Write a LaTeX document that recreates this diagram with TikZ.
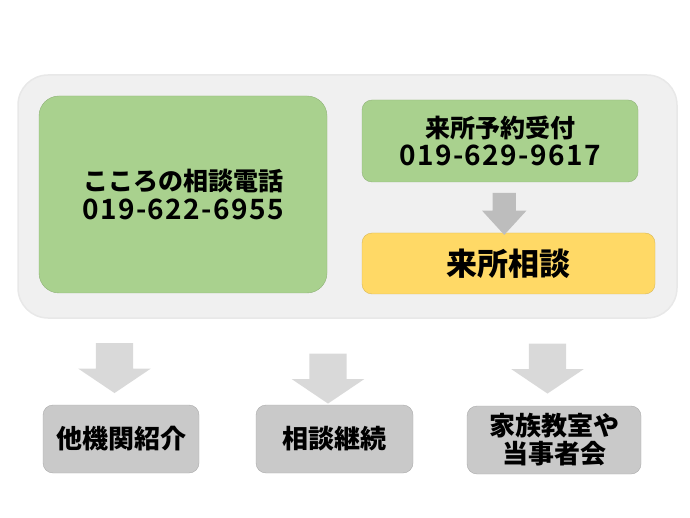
\documentclass[tikz,border=0pt]{standalone}
\usepackage{fontspec}
\newfontfamily\jp{Noto Sans CJK JP Black}
\newfontfamily\jpnum{Noto Sans CJK JP}[BoldFont={* Bold},LetterSpace=5]
\usetikzlibrary{shapes.arrows,calc}

\definecolor{boxgreen}{HTML}{A9D18E}
\definecolor{boxyellow}{HTML}{FFD966}
\definecolor{boxgray}{HTML}{C9C9C9}
\definecolor{panelgray}{HTML}{F0F0F0}

\begin{document}
\begin{tikzpicture}[x=1pt,y=-1pt,
    panel/.style={rounded corners=30pt,fill=panelgray,draw=black!9,line width=1.5pt,minimum width=659pt,minimum height=243pt},
    greenbox/.style={rounded corners=10pt,fill=boxgreen,draw=boxgreen!85!black,line width=0.4pt,align=center,font=\jp\fontsize{25}{32}\selectfont},
    yellowbox/.style={rounded corners=10pt,fill=boxyellow,draw=boxyellow!85!black,line width=0.4pt,font=\jp\fontsize{31}{36}\selectfont},
    graybox/.style={rounded corners=10pt,fill=boxgray,draw=boxgray!85!black,line width=0.4pt,align=center,minimum height=68pt,font=\jp\fontsize{26}{28}\selectfont},
    downarrow/.style={single arrow,rotate=-90,inner xsep=0pt,draw=none,single arrow head indent=0pt},
    bigarrow/.style={downarrow,fill=black!15,inner ysep=18.5pt,minimum height=50pt,single arrow head extend=17.5pt,single arrow tip angle=112},
    smallarrow/.style={downarrow,fill=black!26,inner ysep=11.5pt,minimum height=42pt,single arrow head extend=10.5pt,single arrow tip angle=85}]
  \useasboundingbox (0,0) rectangle (690,518);

  % upper panel
  \node[panel] (outer) at (347.5,196.5) {};
  \node[greenbox,rounded corners=20pt,minimum width=288pt,minimum height=197pt] (tel) at (183,194.5)
    {こころの相談電話\\[-3pt]{\jpnum\bfseries\fontsize{28}{32}\selectfont 019-622-6955}};
  \node[greenbox,minimum width=276pt,minimum height=82pt] (yoyaku) at (500,141)
    {来所予約受付\\[-4pt]{\jpnum\bfseries\fontsize{28}{32}\selectfont 019-629-9617}};
  \node[yellowbox,minimum width=293pt,minimum height=61pt] (raisho) at (508.5,263.5) {来所相談};
  \node[smallarrow] (a0) at ($(yoyaku.south)!0.5!(raisho.north)$) {};

  % lower row
  \node[graybox,minimum width=156pt] (kikan) at (121,439) {他機関紹介};
  \node[graybox,minimum width=157pt] (keizoku) at (334.5,439) {相談継続};
  \node[graybox,minimum width=174pt] (kazoku) at (554,440) {家族教室や\\当事者会};

  \node[bigarrow,yshift=-6.5pt] (a1) at ($(outer.south -| kikan)!0.5!(kikan.north)$) {};
  \node[bigarrow,yshift=-6.5pt,xshift=10.5pt] (a2) at ($(outer.south -| keizoku)!0.5!(keizoku.north)$) {};
  \node[bigarrow,yshift=-6.5pt] (a3) at ($(outer.south -| kazoku)!0.5!(kazoku.north)$) {};
\end{tikzpicture}
\end{document}
